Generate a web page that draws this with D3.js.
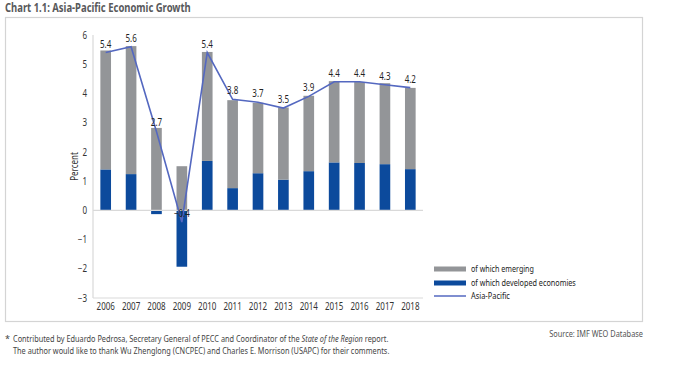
<!DOCTYPE html>
<html>
<head>
<meta charset="utf-8">
<script src="https://cdn.jsdelivr.net/npm/d3@7"></script>
<style>
  html, body { margin: 0; padding: 0; background: #fff; }
  svg { display: block; }
  text { font-family: "Noto Sans", "Open Sans", sans-serif; }
</style>
</head>
<body>
<svg id="chart" width="700" height="375"></svg>
<script>
const years = ["2006","2007","2008","2009","2010","2011","2012","2013","2014","2015","2016","2017","2018"];
const emerging = [4.07, 4.38, 2.82, 1.51, 3.73, 3.01, 2.41, 2.47, 2.58, 2.78, 2.77, 2.77, 2.78];
const developed = [1.40, 1.24, -0.13, -1.93, 1.69, 0.76, 1.27, 1.05, 1.34, 1.64, 1.62, 1.58, 1.41];
const asiaPacific = [5.4, 5.6, 2.7, -0.4, 5.4, 3.8, 3.7, 3.5, 3.9, 4.4, 4.4, 4.3, 4.2];
const yTicks = [-3, -2, -1, 0, 1, 2, 3, 4, 5, 6];
const seriesNames = ["of which emerging", "of which developed economies", "Asia-Pacific"];
const colors = { emerging: "#939598", developed: "#0c4a9c", line: "#5468c0" };

const svg = d3.select("#chart");
const C = 0.8; // horizontal condensation to mimic condensed typeface

function condense(sel, s) {
  sel.each(function () {
    const t = d3.select(this);
    const x0 = +t.attr("x") || 0;
    t.attr("transform", `translate(${x0},0) scale(${s},1) translate(${-x0},0)`);
  });
}
function fitWidth(sel, w) {
  sel.each(function () {
    const len = this.getComputedTextLength();
    condense(d3.select(this), w / len);
  });
}

// title
svg.append("text").attr("x", 5).attr("y", 12)
  .attr("font-size", 12).attr("font-weight", "bold").attr("fill", "#58595b")
  .text("Chart 1.1: Asia-Pacific Economic Growth").call(fitWidth, 186);

// frame
svg.append("rect").attr("x", 5.5).attr("y", 17.5).attr("width", 637).attr("height", 304)
  .attr("fill", "none").attr("stroke", "#d4d4d4").attr("stroke-width", 1.2);

const x = d3.scaleBand().domain(years).range([93, 423]).paddingInner(0.58).paddingOuter(0.29);
const y = d3.scaleLinear().domain([-3, 6]).range([298, 35]);

// stacked data
const table = years.map((yr, i) => ({ year: yr, developed: developed[i], emerging: emerging[i] }));
const stack = d3.stack().keys(["developed", "emerging"]).offset(d3.stackOffsetDiverging);
const stacked = stack(table);

svg.append("g").selectAll("g").data(stacked).join("g")
  .attr("fill", d => colors[d.key])
  .selectAll("rect").data(d => d).join("rect")
  .attr("x", d => x(d.data.year))
  .attr("width", x.bandwidth())
  .attr("y", d => y(Math.max(d[0], d[1])))
  .attr("height", d => Math.abs(y(d[0]) - y(d[1])));

// axes
const axisColor = "#d9d9d9";
svg.append("line").attr("x1", 93).attr("x2", 93).attr("y1", y(6)).attr("y2", y(-3))
  .attr("stroke", axisColor).attr("stroke-width", 1.2);
svg.append("line").attr("x1", 93).attr("x2", 423).attr("y1", y(0)).attr("y2", y(0))
  .attr("stroke", axisColor).attr("stroke-width", 1.2);
svg.append("line").attr("x1", 93).attr("x2", 423).attr("y1", y(-3)).attr("y2", y(-3))
  .attr("stroke", axisColor).attr("stroke-width", 1.2);

const yAxis = d3.axisLeft(y).tickValues(yTicks).tickSize(0).tickPadding(6).tickFormat(d3.format("d"));
const gy = svg.append("g").attr("transform", "translate(93,0)").call(yAxis);
gy.select(".domain").remove();
gy.selectAll("text").attr("font-size", 10).attr("fill", "#333")
  .style("font-family", "'Noto Sans', sans-serif").call(condense, C);

const xAxis = d3.axisBottom(x).tickSize(0).tickPadding(5);
const gx = svg.append("g").attr("transform", `translate(0,${y(-3)})`).call(xAxis);
gx.select(".domain").remove();
gx.selectAll("text").attr("font-size", 10).attr("fill", "#333")
  .style("font-family", "'Noto Sans', sans-serif").call(condense, C);

// y label
svg.append("text").attr("transform", `translate(78,${(y(6) + y(-3)) / 2}) rotate(-90) scale(${C},1)`)
  .attr("text-anchor", "middle").attr("font-size", 10).attr("fill", "#333").text("Percent");

// line
const cx = i => x(years[i]) + x.bandwidth() / 2;
const line = d3.line().x((d, i) => cx(i)).y(d => y(d));
svg.append("path").datum(asiaPacific).attr("d", line)
  .attr("fill", "none").attr("stroke", colors.line).attr("stroke-width", 1.6);

// labels
svg.append("g").selectAll("text").data(asiaPacific).join("text")
  .attr("x", (d, i) => cx(i))
  .attr("y", d => y(d) - 5)
  .attr("text-anchor", "middle").attr("font-size", 10).attr("fill", "#222")
  .text(d => d3.format(".1f")(d)).call(condense, C);

// legend
const legend = svg.append("g");
const legY = [269, 283, 296];
const legW = [63, 105, 39];
legend.append("rect").attr("x", 434).attr("y", legY[0] - 2.5).attr("width", 32).attr("height", 5).attr("fill", colors.emerging);
legend.append("rect").attr("x", 434).attr("y", legY[1] - 2.5).attr("width", 32).attr("height", 5).attr("fill", colors.developed);
legend.append("line").attr("x1", 434).attr("x2", 466).attr("y1", legY[2]).attr("y2", legY[2])
  .attr("stroke", colors.line).attr("stroke-width", 1.5);
legend.selectAll("text.leg").data(seriesNames).join("text").attr("class", "leg")
  .attr("x", 471).attr("y", (d, i) => legY[i] + 3.5)
  .attr("font-size", 9.5).attr("fill", "#222").text(d => d)
  .each(function (d, i) { fitWidth(d3.select(this), legW[i]); });

// source
svg.append("text").attr("x", 643).attr("y", 337).attr("text-anchor", "end")
  .attr("font-size", 9).attr("fill", "#555").text("Source: IMF WEO Database").call(fitWidth, 94);

// footnote
svg.append("text").attr("x", 5).attr("y", 342).attr("font-size", 9).attr("fill", "#444").text("*");
const fn1 = svg.append("text").attr("x", 13).attr("y", 342).attr("font-size", 9).attr("fill", "#444");
fn1.append("tspan").text("Contributed by Eduardo Pedrosa, Secretary General of PECC and Coordinator of the ");
fn1.append("tspan").attr("font-style", "italic").text("State of the Region");
fn1.append("tspan").text(" report.");
fn1.call(fitWidth, 376);
svg.append("text").attr("x", 13).attr("y", 354).attr("font-size", 9).attr("fill", "#444")
  .text("The author would like to thank Wu Zhenglong (CNCPEC) and Charles E. Morrison (USAPC) for their comments.")
  .call(fitWidth, 377);
</script>
</body>
</html>
